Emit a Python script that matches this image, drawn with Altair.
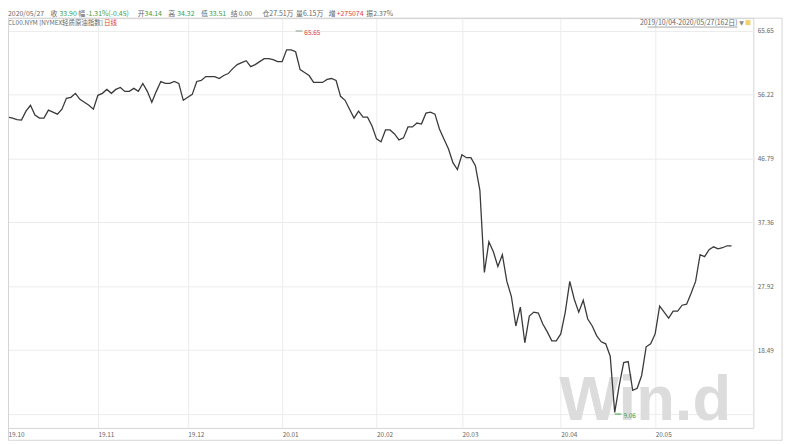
import altair as alt
import pandas as pd

# ---------------- data ----------------
close = [
    52.93, 52.78, 52.56, 52.49, 53.81, 54.68, 53.22, 52.78, 52.78, 53.95,
    53.66, 53.37, 54.10, 55.71, 55.85, 56.44, 55.56, 55.12, 54.68, 54.10,
    56.15, 56.44, 57.02, 56.44, 57.02, 57.31, 56.73, 56.73, 57.17, 56.73,
    57.90, 56.73, 55.12, 56.73, 58.19, 57.90, 57.90, 58.19, 57.90, 55.41,
    55.85, 56.29, 58.19, 58.34, 58.92, 58.92, 58.92, 58.63, 59.07, 59.36,
    60.09, 60.68, 60.97, 61.26, 60.39, 60.68, 61.12, 61.56, 61.56, 61.41,
    61.12, 61.12, 62.87, 62.87, 62.58, 59.95, 59.51, 59.07, 58.05, 58.05,
    58.05, 58.49, 58.63, 58.34, 56.00, 55.41, 54.10, 52.78, 53.81, 52.93,
    52.93, 51.61, 49.71, 49.27, 51.03, 51.03, 50.44, 49.56, 49.86, 51.47,
    51.47, 52.05, 51.90, 53.51, 53.66, 53.37, 51.17, 49.71, 48.25, 46.20,
    45.18, 47.37, 46.93, 46.93, 45.76, 42.11, 29.97, 34.50, 33.04, 30.85,
    32.60, 28.65, 26.46, 22.07, 24.85, 19.59, 23.54, 24.12, 23.97, 22.37,
    21.20, 19.88, 19.88, 20.90, 24.12, 28.65, 26.02, 24.12, 25.87, 23.10,
    22.07, 20.61, 19.73, 19.44, 17.60, 9.30, 13.30, 16.66, 16.81, 12.57,
    12.86, 14.76, 19.00, 19.44, 20.90, 25.00, 24.12, 23.24, 24.27, 24.27,
    25.14, 25.29, 26.90, 28.65, 32.60, 32.31, 33.33, 33.77, 33.48, 33.63,
    33.92, 33.90,
]
month_labels = ["19.10", "19.11", "19.12", "20.01", "20.02", "20.03", "20.04", "20.05"]
month_start_idx = [0, 20, 40, 61, 82, 101, 123, 144]
y_ticks = [9.06, 18.49, 27.92, 37.36, 46.79, 56.22, 65.65]
ext_idx = [64, 135]
ext_val = [65.65, 9.06]
ext_text = ["65.65", "9.06"]

row1_text = ["2020/05/27", "收", "33.90", "幅", "-1.31%(-0.45)", "开", "34.14", "高", "34.32",
             "低", "33.51", "结", "0.00", "仓", "27.51万", "量", "6.15万", "增", "+275074",
             "振", "2.37%"]
row1_kind = ["n", "n", "g", "n", "g", "n", "g", "n", "g", "n", "g", "n", "n", "n", "n",
             "n", "n", "n", "r", "n", "n"]
row2_text = ["CL00.NYM [NYMEX轻质原油指数]", "日线"]
row2_kind = ["n", "r"]
range_text = "2019/10/04-2020/05/27(162日)"
watermark = "Win.d"

# ---------------- layout ----------------
W, H = 753, 414
X_DOMAIN = [0, 165.85]
Y_DOMAIN = [7.01, 67.55]
GRAY, GREEN, RED = "#666666", "#3c9a3c", "#e0403c"
kind_color = {"n": GRAY, "g": GREEN, "r": RED}
FONT = "Noto Sans CJK SC"
row1_x = [0, 43, 52, 71, 79, 131, 138, 162, 171, 195, 203, 225, 233, 257, 264, 291, 298,
          324, 332, 362, 369]
row2_x = [0, 97]

df = pd.DataFrame({"i": list(range(len(close))), "v": close})

label_expr = "[{}][indexof([{}], datum.value)]".format(
    ",".join("'%s'" % m for m in month_labels), ",".join(str(v) for v in month_start_idx))

x_enc = alt.X("i:Q", scale=alt.Scale(domain=X_DOMAIN, nice=False, zero=False),
              axis=alt.Axis(values=month_start_idx, labelExpr=label_expr, grid=True,
                            gridColor="#ececec", domain=False, ticks=False, labelAlign="left",
                            labelPadding=4, labelFontSize=6.5, labelColor=GRAY, labelFont=FONT,
                            labelFlush=False, labelOverlap=False, title=None))
y_enc = alt.Y("v:Q", scale=alt.Scale(domain=Y_DOMAIN, nice=False, zero=False),
              axis=alt.Axis(orient="right", values=y_ticks,
                            labelExpr="datum.value < 10 ? '' : format(datum.value, '.2f')",
                            grid=True, gridColor="#ececec", domain=False, ticks=False,
                            labelPadding=4, labelFontSize=6.5, labelColor=GRAY, labelFont=FONT,
                            labelBaseline="middle", title=None))

one = alt.Data(values=[{"k": 1}])

wm = alt.Chart(one).mark_text(text=watermark, font="Liberation Sans", fontWeight="bold",
                              fontSize=64, color="#dcdcdc", align="left",
                              baseline="alphabetic").encode(x=alt.value(557), y=alt.value(406))

line = alt.Chart(df).mark_line(color="#3a3a3a", strokeWidth=1.3).encode(x=x_enc, y=y_enc)

ext = pd.DataFrame({"i": ext_idx, "i2": [v + 1.5 for v in ext_idx], "v": ext_val,
                    "t": ext_text, "c": [RED, GREEN], "rc": ["#8aa08a", GREEN]})
ext_rule = alt.Chart(ext).mark_rule(strokeWidth=1).encode(
    x="i:Q", x2="i2:Q", y="v:Q", color=alt.Color("rc:N", scale=None, legend=None))
ext_txt = alt.Chart(ext).mark_text(align="left", baseline="middle", dx=2, dy=2,
                                   fontSize=6.5, font=FONT).encode(
    x="i2:Q", y="v:Q", text="t:N", color=alt.Color("c:N", scale=None, legend=None))

layers = [wm, line, ext_rule, ext_txt]

for t, k, px in zip(row1_text, row1_kind, row1_x):
    layers.append(alt.Chart(one).mark_text(text=t, align="left", baseline="middle",
                                           fontSize=7, font=FONT, color=kind_color[k])
                  .encode(x=alt.value(px), y=alt.value(-4.5)))
for t, k, px in zip(row2_text, row2_kind, row2_x):
    layers.append(alt.Chart(one).mark_text(text=t, align="left", baseline="middle",
                                           fontSize=6.5, font=FONT, color=kind_color[k])
                  .encode(x=alt.value(px), y=alt.value(4.5)))

layers.append(alt.Chart(one).mark_text(text=range_text, align="right", baseline="middle",
                                       fontSize=7, font=FONT, color=GRAY)
              .encode(x=alt.value(737), y=alt.value(4.5)))
layers.append(alt.Chart(one).mark_rule(color=GRAY, strokeWidth=0.6)
              .encode(x=alt.value(646), x2=alt.value(737), y=alt.value(9)))
layers.append(alt.Chart(one).mark_text(text="▼", align="center", baseline="middle",
                                       fontSize=6, font="DejaVu Sans", color="#888888")
              .encode(x=alt.value(741), y=alt.value(4.5)))
layers.append(alt.Chart(one).mark_rect(color="#f2d36b")
              .encode(x=alt.value(745), x2=alt.value(750), y=alt.value(2), y2=alt.value(7)))

FR = "#d5d5d5"
layers.append(alt.Chart(one).mark_rule(color=FR).encode(
    x=alt.value(0), x2=alt.value(782), y=alt.value(0)))
layers.append(alt.Chart(one).mark_rule(color=FR).encode(
    x=alt.value(782), y=alt.value(0), y2=alt.value(426.5)))
layers.append(alt.Chart(one).mark_rule(color=FR).encode(
    x=alt.value(0.5), x2=alt.value(782), y=alt.value(426.5)))
layers.append(alt.Chart(one).mark_rule(color=FR).encode(
    x=alt.value(0.5), y=alt.value(0), y2=alt.value(426.5)))

chart = alt.layer(*layers).properties(
    width=W, height=H, autosize="none",
    padding={"left": 0, "top": 8, "right": 35, "bottom": 14},
    background="white",
).configure_view(stroke=FR, strokeWidth=1)

chart.save("out.html", embed_options={"renderer": "svg", "actions": False})
